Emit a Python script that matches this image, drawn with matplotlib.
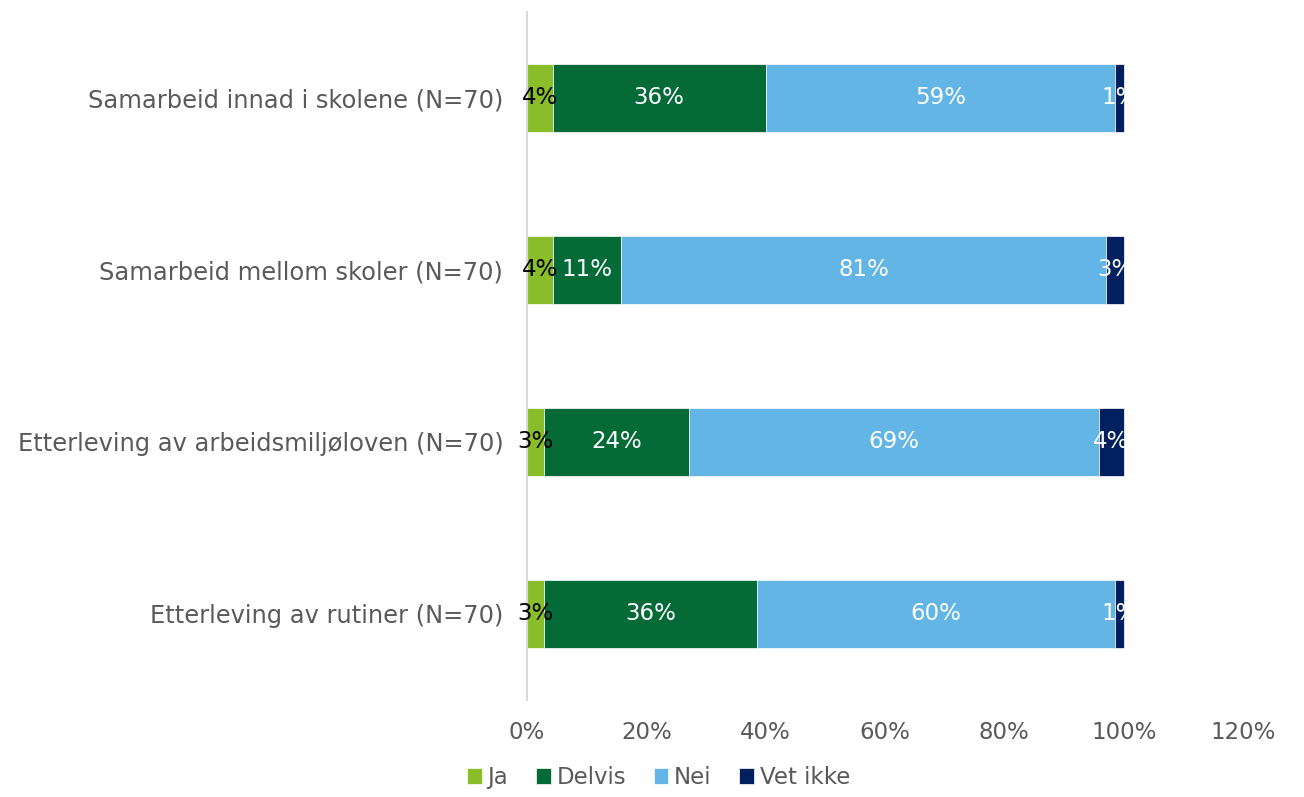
import matplotlib
matplotlib.use("Agg")
import matplotlib.pyplot as plt
from matplotlib.ticker import FuncFormatter

categories = ["Samarbeid innad i skolene (N=70)",
              "Samarbeid mellom skoler (N=70)",
              "Etterleving av arbeidsmiljøloven (N=70)",
              "Etterleving av rutiner (N=70)"]
series = ["Ja", "Delvis", "Nei", "Vet ikke"]
ja = [4.3, 4.3, 2.9, 2.9]
delvis = [35.7, 11.4, 24.3, 35.7]
nei = [58.6, 81.4, 68.6, 60.0]
vet_ikke = [1.4, 2.9, 4.3, 1.4]
values = [ja, delvis, nei, vet_ikke]
colors = ["#8ABD2A", "#046A38", "#62B5E5", "#002060"]
text_colors = ["black", "white", "white", "white"]
xticks = [0, 20, 40, 60, 80, 100, 120]

FS = 16.5
plt.rcParams['font.family'] = ['DejaVu Sans']
fig = plt.figure(figsize=(13.04, 7.97), dpi=100)
ax = fig.add_axes([0.4041, 0.1217, 0.9532 - 0.4041, 0.985 - 0.1217])

y = list(range(len(categories)))
left = [0.0] * len(categories)
for s, vals, c, tc in zip(series, values, colors, text_colors):
    ax.barh(y, vals, left=left, height=0.4, color=c, label=s,
            edgecolor="white", linewidth=0.5)
    for yi, v, l in zip(y, vals, left):
        ax.text(l + v / 2, yi, f"{round(v):.0f}%", ha="center", va="center",
                color=tc, fontsize=FS)
    left = [l + v for l, v in zip(left, vals)]

ax.set_ylim(len(categories) - 0.5, -0.5)
ax.set_xlim(0, 120)
ax.set_yticks(y)
ax.set_yticklabels(categories, fontsize=17.4, color="#595959")
ax.set_xticks(xticks)
ax.xaxis.set_major_formatter(FuncFormatter(lambda v, p: f"{v:.0f}%"))
ax.tick_params(axis="x", labelsize=FS, labelcolor="#595959", length=0, pad=15)
ax.tick_params(axis="y", length=0, pad=17)
for sp in ["top", "right", "bottom"]:
    ax.spines[sp].set_visible(False)
ax.spines["left"].set_color("#D9D9D9")
ax.spines["left"].set_linewidth(1.5)

leg = fig.legend(loc="lower center", bbox_to_anchor=(0.505, -0.016), ncol=4,
                 frameon=False, fontsize=FS, handlelength=0.65, handleheight=0.65,
                 handletextpad=0.25, columnspacing=1.2)
for t in leg.get_texts():
    t.set_color("#595959")

fig.savefig("out.png", dpi=100)
